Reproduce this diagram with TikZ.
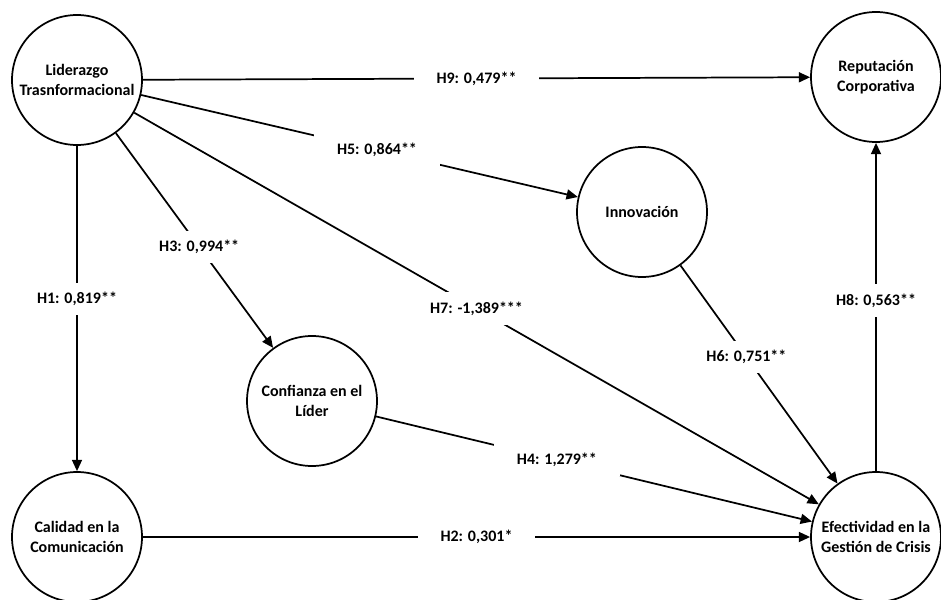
\documentclass[tikz,border=0pt]{standalone}
\usepackage{fontspec}
\setmainfont{Carlito}
\usepackage{tikz}
\usetikzlibrary{positioning,arrows.meta}
\tikzstyle{line} = [draw,line width=1.3pt]

\begin{document}
\begin{tikzpicture}[x=0.75pt,y=-0.75pt,
            var/.style = {circle, draw, line width=1.3pt, minimum size=97.5pt,
              inner sep=0pt, align=center, font=\bfseries\fontsize{12}{15}\selectfont},
            coef/.style = {fill=white, inner xsep=17pt, inner ysep=7pt,
              font=\bfseries\fontsize{12}{15}\selectfont},
            tip/.style = {-{Triangle[length=8.5pt,width=7.5pt]}}]
            \useasboundingbox (0,0) rectangle (941,599);
            \node[var] (lid) at (77,80) {Liderazgo\\Trasnformacional};
            \node[var] (rep) at (876,77) {Reputación\\Corporativa};
            \node[var] (inn) at (642,212) {Innovación};
            \node[var] (conf) at (312,401) {Confianza en el\\Líder};
            \node[var] (cal) at (77,537) {Calidad en la\\Comunicación};
            \node[var] (efe) at (876,537) {Efectividad en la\\Gestión de Crisis};
            \path [line, tip] (lid) -- node[coef, pos=0.5] (h9) {H9: 0,479**} (rep);
            \path [line, tip] (lid) -- node[coef, pos=0.54] (h5) {H5: 0,864**} (inn);
            \path [line, tip] (lid) -- node[coef, pos=0.53] (h3) {H3: 0,994**} (conf);
            \path [line, tip] (lid) -- node[coef, pos=0.47] (h1) {H1: 0,819**} (cal);
            \path [line, tip] (lid) -- node[coef, pos=0.5] (h7) {H7: -1,389***} (efe);
            \path [line, tip] (inn) -- node[coef, pos=0.42] (h6) {H6: 0,751**} (efe);
            \path [line, tip] (conf) -- node[coef, pos=0.415] (h4) {H4: 1,279**} (efe);
            \path [line, tip] (cal) -- node[coef, pos=0.5] (h2) {H2: 0,301*} (efe);
            \path [line, tip] (efe) -- node[coef, pos=0.52] (h8) {H8: 0,563**} (rep);
            \end{tikzpicture}
\end{document}
